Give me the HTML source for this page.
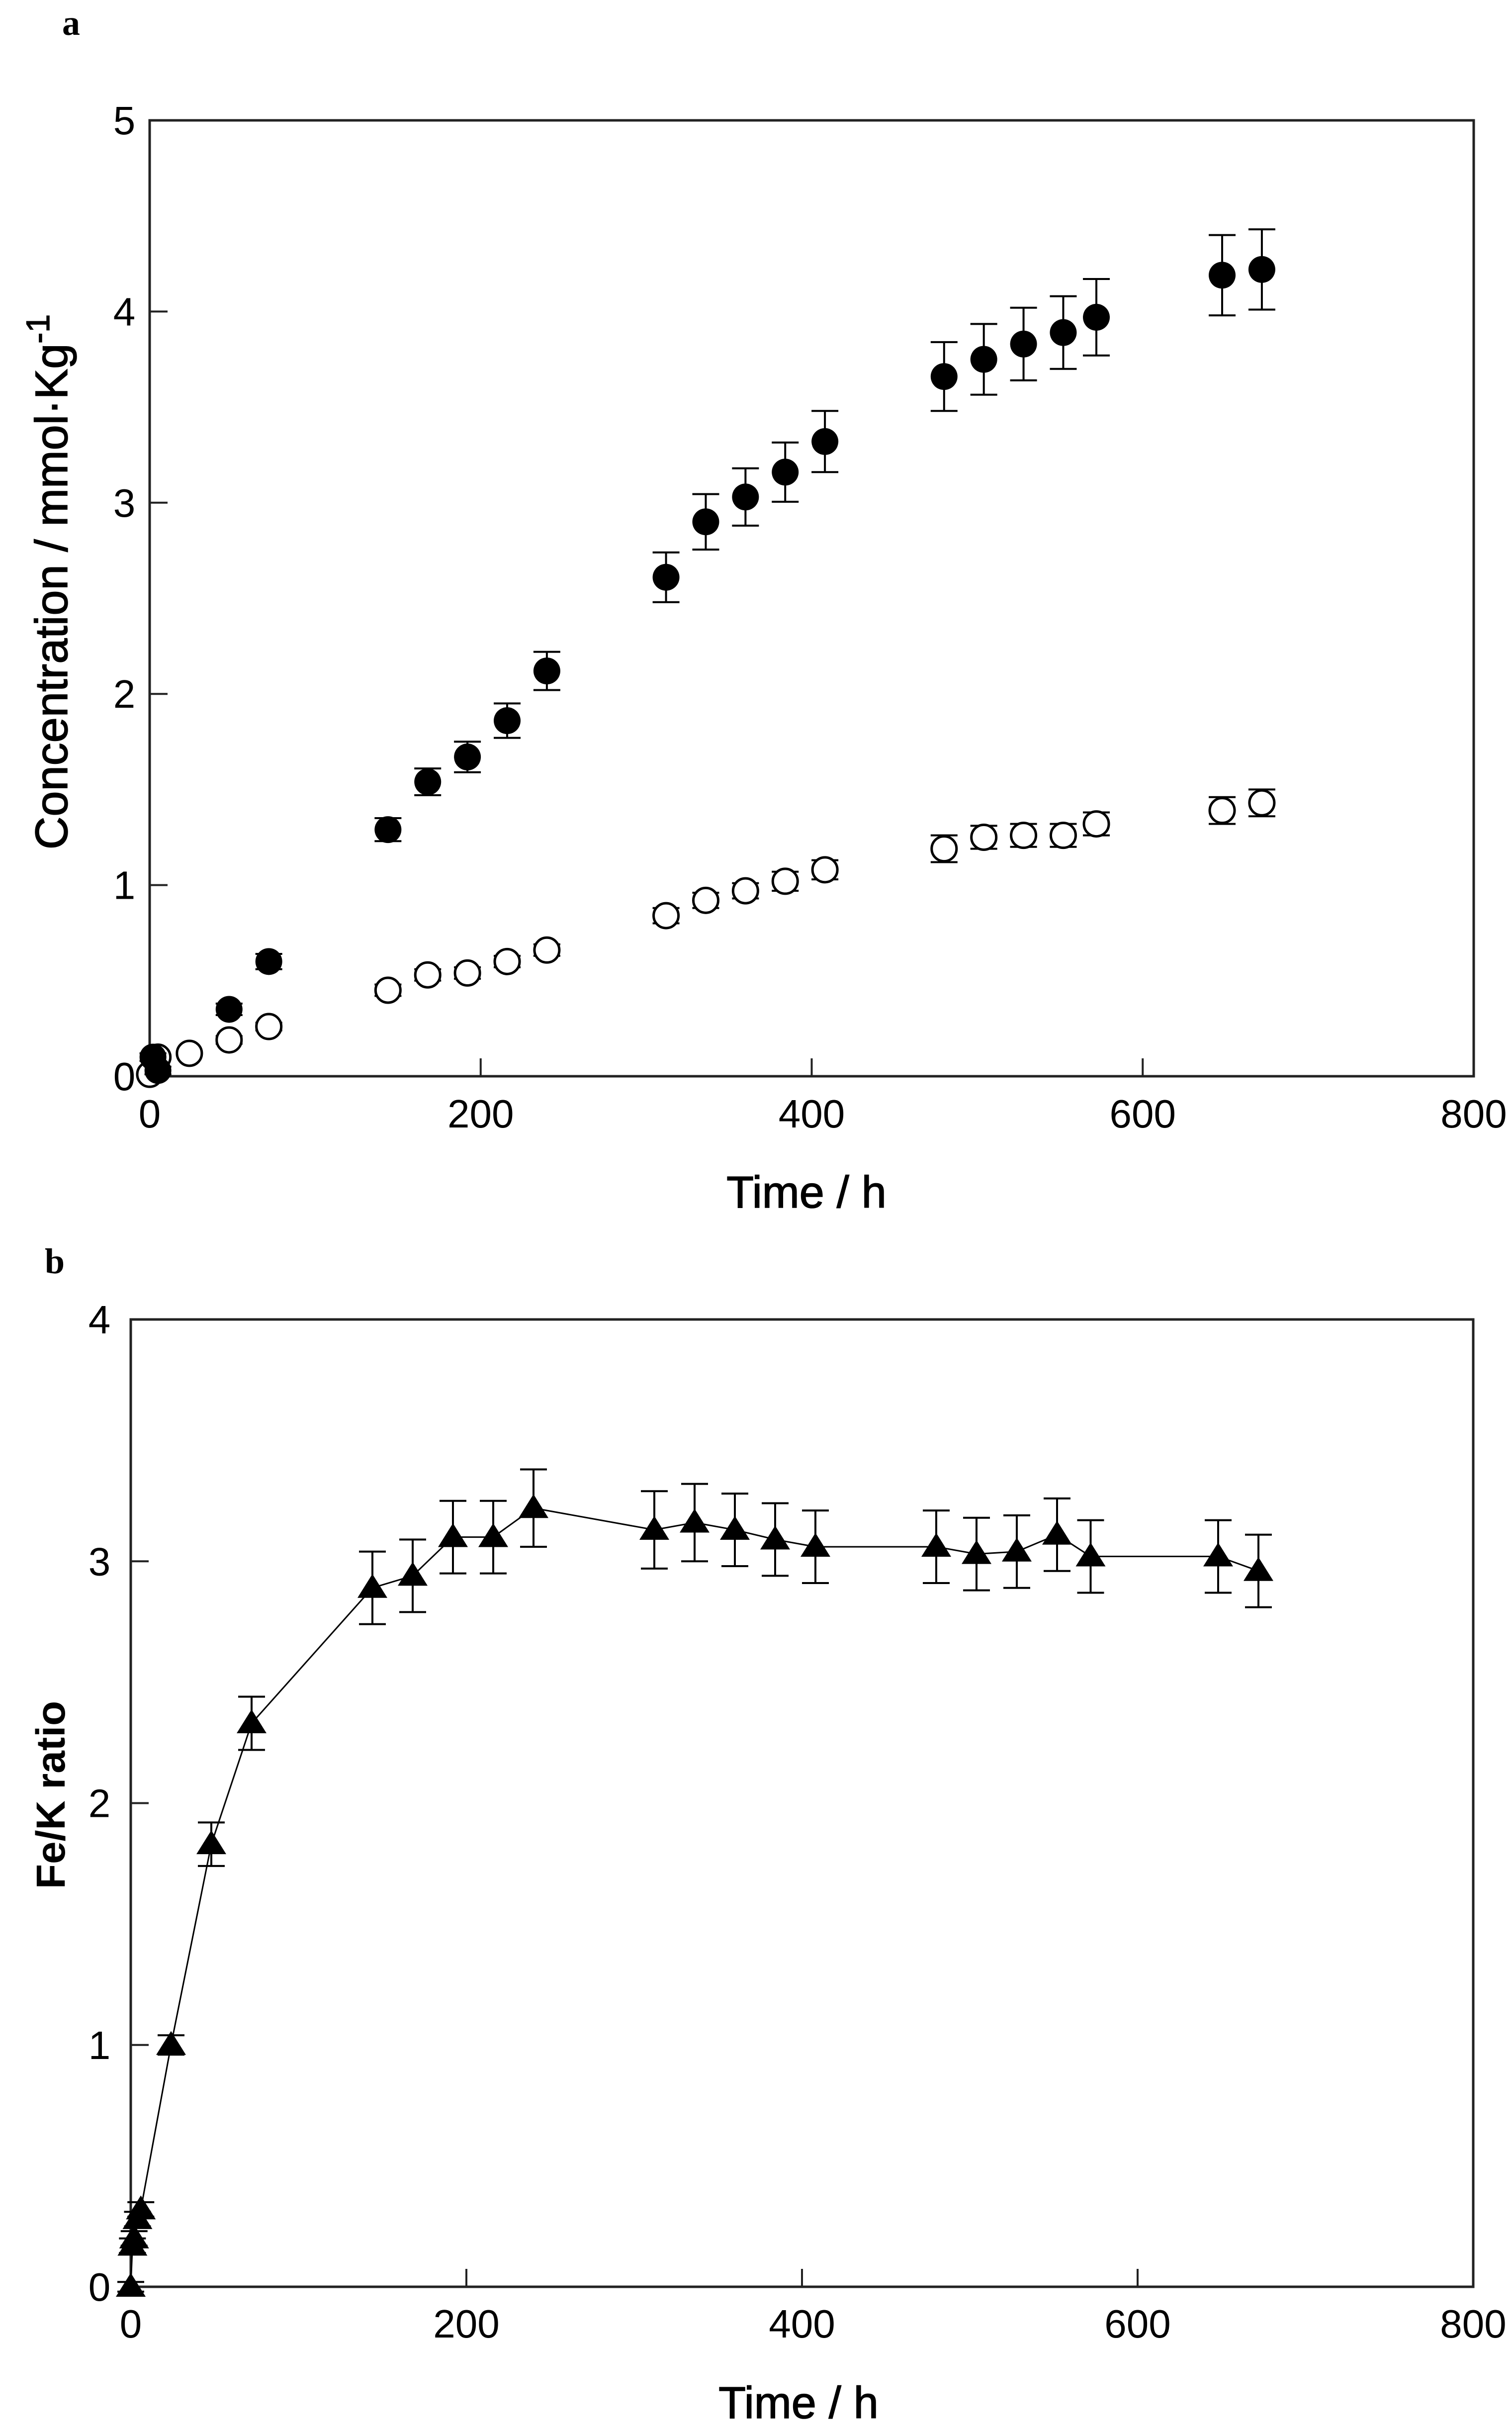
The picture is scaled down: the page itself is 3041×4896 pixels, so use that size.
<!DOCTYPE html>
<html><head><meta charset="utf-8"><style>
html,body{margin:0;padding:0;background:#fff}
svg{display:block}
text{font-family:"Liberation Sans",Arial,sans-serif;fill:#000}
</style></head><body>
<svg id="fig" width="3041" height="4896" viewBox="0 0 3041 4896" xmlns="http://www.w3.org/2000/svg">
<rect width="3041" height="4896" fill="#fff"/>
<text x="125" y="70" font-weight="bold" font-size="72" style="font-family:'Liberation Serif',serif">a</text>
<text x="90" y="2560" font-weight="bold" font-size="72" style="font-family:'Liberation Serif',serif">b</text>
<g id="ga"></g>
<g id="gb"></g>
</svg>
<script>
// Chart a data
const aFilledTime = [2,5,48,72,144,168,192,216,240,312,336,360,384,408,480,504,528,552,572,648,672];
const aFilledVal = [0.1,0.03,0.35,0.60,1.29,1.54,1.67,1.86,2.12,2.61,2.90,3.03,3.16,3.32,3.66,3.75,3.83,3.89,3.97,4.19,4.22];
const aFilledErr = [0.02,0.02,0.03,0.04,0.06,0.07,0.08,0.09,0.1,0.13,0.145,0.15,0.155,0.16,0.18,0.185,0.19,0.19,0.2,0.21,0.21];
const aOpenTime = [0,5,24,48,72,144,168,192,216,240,312,336,360,384,408,480,504,528,552,572,648,672];
const aOpenVal = [0.01,0.1,0.12,0.19,0.26,0.45,0.53,0.54,0.60,0.66,0.84,0.92,0.97,1.02,1.08,1.19,1.25,1.26,1.26,1.32,1.39,1.43];
const aOpenErr = [0.01,0.01,0.01,0.02,0.02,0.03,0.03,0.03,0.03,0.03,0.04,0.04,0.04,0.05,0.05,0.07,0.06,0.06,0.06,0.06,0.07,0.07];
const aXTicks = ["0","200","400","600","800"];
const aYTicks = ["0","1","2","3","4","5"];
// Chart b data
const bTime = [0,1,2,4,6,24,48,72,144,168,192,216,240,312,336,360,384,408,480,504,528,552,572,648,672];
const bVal = [0.0,0.17,0.2,0.28,0.32,1.0,1.83,2.33,2.89,2.94,3.10,3.10,3.22,3.13,3.16,3.13,3.09,3.06,3.06,3.03,3.04,3.11,3.02,3.02,2.96];
const bErr = [0.02,0.03,0.03,0.03,0.03,0.04,0.09,0.11,0.15,0.15,0.15,0.15,0.16,0.16,0.16,0.15,0.15,0.15,0.15,0.15,0.15,0.15,0.15,0.15,0.15];
const bXTicks = ["0","200","400","600","800"];
const bYTicks = ["0","1","2","3","4"];

const NS="http://www.w3.org/2000/svg";
function mk(tag, attrs, parent){const e=document.createElementNS(NS,tag);for(const k in attrs)e.setAttribute(k,attrs[k]);parent.appendChild(e);return e;}

function axes(g, L, R, T, B, xmax, ymax, xt, yt, ylabX, xlabY){
  const xs=v=>L+(R-L)*v/xmax, ys=v=>B-(B-T)*v/ymax;
  const fr=mk('rect',{x:L,y:T,width:R-L,height:B-T,fill:'none',stroke:'#222','stroke-width':5},g);
  
  
  xt.forEach(s=>{const v=+s,x=xs(v);
    const t=mk('line',{x1:x,y1:B,x2:x,y2:B-36,stroke:'#222','stroke-width':4},g);
    
    
    const tx=mk('text',{x:x,y:xlabY,'text-anchor':'middle','font-size':80},g);tx.textContent=s;
    
    
  });
  yt.forEach(s=>{const v=+s,y=ys(v);
    const t=mk('line',{x1:L,y1:y,x2:L+36,y2:y,stroke:'#222','stroke-width':4},g);
    
    
    const tx=mk('text',{x:ylabX,y:y+28,'text-anchor':'middle','font-size':80},g);tx.textContent=s;
    
    
  });
  return [xs,ys];
}
function errbar(g,x,y1,y2){
  const p=mk('path',{d:`M${x},${y1}V${y2}M${x-27},${y1}H${x+27}M${x-27},${y2}H${x+27}`,stroke:'#000','stroke-width':4,fill:'none'},g);
  
  
}

// Chart A
(function(){
  const g=document.getElementById('ga');
  const [xs,ys]=axes(g,301,2964,242,2164,800,5,aXTicks,aYTicks,250,2267);
  aOpenTime.forEach((t,i)=>errbar(g,xs(t),ys(aOpenVal[i]+aOpenErr[i]),ys(aOpenVal[i]-aOpenErr[i])));
  aOpenTime.forEach((t,i)=>{const c=mk('circle',{cx:xs(t),cy:ys(aOpenVal[i]),r:25,fill:'#fff',stroke:'#000','stroke-width':5},g);
    
    });
  aFilledTime.forEach((t,i)=>errbar(g,xs(t),ys(aFilledVal[i]+aFilledErr[i]),ys(aFilledVal[i]-aFilledErr[i])));
  aFilledTime.forEach((t,i)=>{const c=mk('circle',{cx:xs(t),cy:ys(aFilledVal[i]),r:27,fill:'#000'},g);
    
    });
  const xt=mk('text',{x:1622,y:2428,'text-anchor':'middle','font-size':90,stroke:'#000','stroke-width':1.5},g);xt.textContent='Time / h';
  
  
  const yt=mk('text',{x:0,y:0,'text-anchor':'middle','font-size':92,stroke:'#000','stroke-width':1.5,transform:'translate(135,1170) rotate(-90)'},g);
  yt.innerHTML='Concentration / mmol·Kg<tspan dy="-36" font-size="66">-1</tspan>';
  
  
})();

// Chart B
(function(){
  const g=document.getElementById('gb');
  const [xs,ys]=axes(g,263,2963,2653,4598,800,4,bXTicks,bYTicks,200,4700);
  const d=bTime.map((t,i)=>(i?'L':'M')+xs(t)+','+ys(bVal[i])).join('');
  const ln=mk('path',{d:d,fill:'none',stroke:'#000','stroke-width':3},g);
  
  
  bTime.forEach((t,i)=>errbar(g,xs(t),ys(bVal[i]+bErr[i]),ys(bVal[i]-bErr[i])));
  bTime.forEach((t,i)=>{const x=xs(t),y=ys(bVal[i]);
    const p=mk('path',{d:`M${x},${y-28}L${x+30},${y+20}L${x-30},${y+20}Z`,fill:'#000'},g);
    
    });
  const xt=mk('text',{x:1606,y:4862,'text-anchor':'middle','font-size':90,stroke:'#000','stroke-width':1.5},g);xt.textContent='Time / h';
  
  
  const yt=mk('text',{x:0,y:0,'text-anchor':'middle','font-size':82,'font-weight':'bold',transform:'translate(130,3609) rotate(-90)'},g);
  yt.textContent='Fe/K ratio';
  
  
})();
</script>
</body></html>
